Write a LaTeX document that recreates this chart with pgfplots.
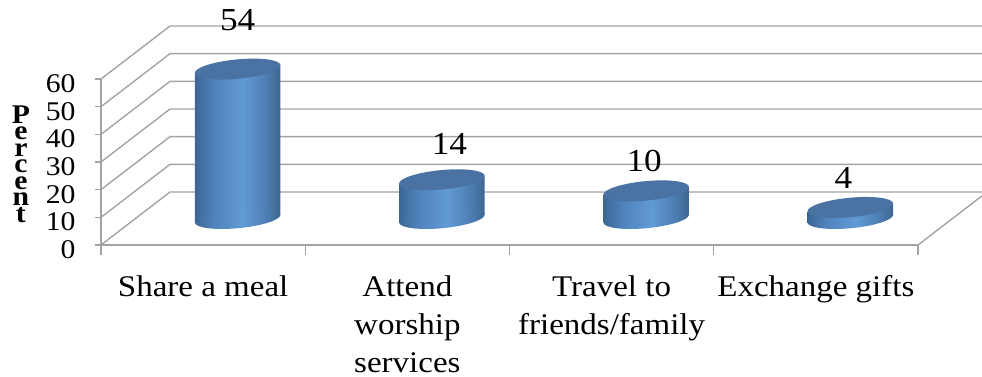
\documentclass[border=0pt]{standalone}
\usepackage{fontspec}
\setmainfont[FakeStretch=1.1]{Liberation Serif}
\usepackage{pgfplots}
\usepackage{pgfplotstable}
\pgfplotsset{compat=1.18}

\definecolor{gridgray}{HTML}{A3A3A3}
\definecolor{captop}{HTML}{4A72A3}
\definecolor{bodyA}{HTML}{3C6793}
\definecolor{bodyB}{HTML}{4F82BB}
\definecolor{bodyC}{HTML}{619AD6}
\definecolor{bodyD}{HTML}{4E7FB4}
\definecolor{bodyE}{HTML}{3D6690}

% Side lighting of the cylinder wall
\pgfdeclarehorizontalshading{cylwall}{100bp}{
  color(0bp)=(bodyA); color(25bp)=(bodyA); color(36bp)=(bodyB);
  color(53bp)=(bodyC); color(66bp)=(bodyD); color(75bp)=(bodyE); color(100bp)=(bodyE)}

% Tilted ellipses closing a cylinder at its top and at its foot
\pgfdeclareplotmark{cylcap}{%
  \pgfpathellipse{\pgfpointorigin}{\pgfqpointpolar{5.4}{43pt}}{\pgfqpointpolar{95.4}{9.7pt}}%
  \pgfsetfillcolor{captop}\pgfusepathqfill}
\pgfdeclareplotmark{cylfoot}{%
  \pgfpathellipse{\pgfpointorigin}{\pgfqpointpolar{5.4}{43pt}}{\pgfqpointpolar{95.4}{9.7pt}}%
  \pgfshadepath{cylwall}{0}\pgfusepath{discard}}

% Share of respondents per activity, with label offsets from the cap centre
\pgfplotstableread{
x   v   dx   dy
0.5 54  0    48.5
1.5 14  7.5  36
2.5 10  -2   30
3.5 4   -7   29
}\activities

% Wireframe of the walls: depth offset of 69pt by 53pt in axis units
\pgfplotstableread{
x      y
0      0
0.3378 19.15
4.3133 19.15
}\wallzero

\pgfplotsset{
  wall/.style={gridgray, line width=1.4pt, no markers, forget plot},
  sharedbox/.style={
    width=817pt, height=166pt, scale only axis,
    xmin=0, xmax=4, ymin=0, ymax=60, clip=false},
  % the wall is sheared about its own centre line, to meet the tilted ellipses
  cylbody/.style={ybar, bar width=85.5pt, bar shift=0pt, draw=none, shading=cylwall, forget plot,
    yshift=-0.0905*#1 pt, yslant=0.0905}
}

\begin{document}
\begin{tikzpicture}[x=1pt,y=1pt]
\useasboundingbox (0,0) rectangle (982,377);

\begin{axis}[
  sharedbox,
  at={(101pt,132pt)}, anchor=south west,
  axis x line=bottom, axis y line=left,
  axis line style={gridgray, line width=1.4pt, -},
  xtick={0.5,1.5,2.5,3.5},
  minor xtick={0,1,2,3,4},
  xticklabels={Share a meal,{Attend\\worship\\services},{Travel to\\friends/family},Exchange gifts},
  ytick={0,10,20,30,40,50,60},
  tick align=outside,
  major tick length=6pt, minor tick length=10pt,
  xtick style={draw=none},
  minor x tick style={draw=gridgray, line width=1.4pt},
  ytick style={draw=gridgray, line width=1.4pt},
  xticklabel style={font=\fontsize{30}{38}\selectfont, align=center, anchor=north, yshift=-21pt},
  yticklabel style={font=\fontsize{27}{30}\selectfont, anchor=east, xshift=-16pt, yshift=-4.5pt},
  /pgf/number format/assume math mode=true,
  ylabel={P\\e\\r\\c\\e\\n\\t},
  ylabel style={rotate=-90, at={(axis description cs:-0.098,0.488)}, anchor=center,
    align=center, font=\fontsize{27}{16.5}\selectfont\bfseries},
]
  \addplot[wall] table {\wallzero};
  \addplot[wall] coordinates {(0,10) (0.3378,29.15) (4.3133,29.15)};
  \addplot[wall] coordinates {(0,20) (0.3378,39.15) (4.3133,39.15)};
  \addplot[wall] coordinates {(0,30) (0.3378,49.15) (4.3133,49.15)};
  \addplot[wall] coordinates {(0,40) (0.3378,59.15) (4.3133,59.15)};
  \addplot[wall] coordinates {(0,50) (0.3378,69.15) (4.3133,69.15)};
  \addplot[wall] coordinates {(0,60) (0.3378,79.15) (4.3133,79.15)};
  % floor edge running back from the lower right corner
  \addplot[wall] coordinates {(4,0) (4.3133,17.76)};
\end{axis}

% The cylinders stand half way back on the floor
\begin{axis}[
  sharedbox,
  at={(135.5pt,158.5pt)}, anchor=south west,
  hide axis,
]
  \addplot[only marks, mark=cylfoot, forget plot] table[x=x, y expr=0] {\activities};
  % one plot per cylinder, so that each wall carries the whole shading
  \addplot[cylbody=102.125, skip coords between index={1}{4}] table[x=x, y=v] {\activities};
  \addplot[cylbody=306.375, skip coords between index={0}{1}, skip coords between index={2}{4}] table[x=x, y=v] {\activities};
  \addplot[cylbody=510.625, skip coords between index={0}{2}, skip coords between index={3}{4}] table[x=x, y=v] {\activities};
  \addplot[cylbody=714.875, skip coords between index={0}{3}] table[x=x, y=v] {\activities};
  \addplot[only marks, mark=cylcap, forget plot,
    visualization depends on={\thisrow{dx} \as \labdx},
    visualization depends on={\thisrow{dy} \as \labdy},
    nodes near coords,
    point meta=y,
    nodes near coords style={anchor=center, font=\fontsize{32}{34}\selectfont,
      /pgf/number format/assume math mode=true,
      shift={(\labdx pt,\labdy pt)}, text=black},
  ] table[x=x, y=v] {\activities};
\end{axis}
\end{tikzpicture}
\end{document}
